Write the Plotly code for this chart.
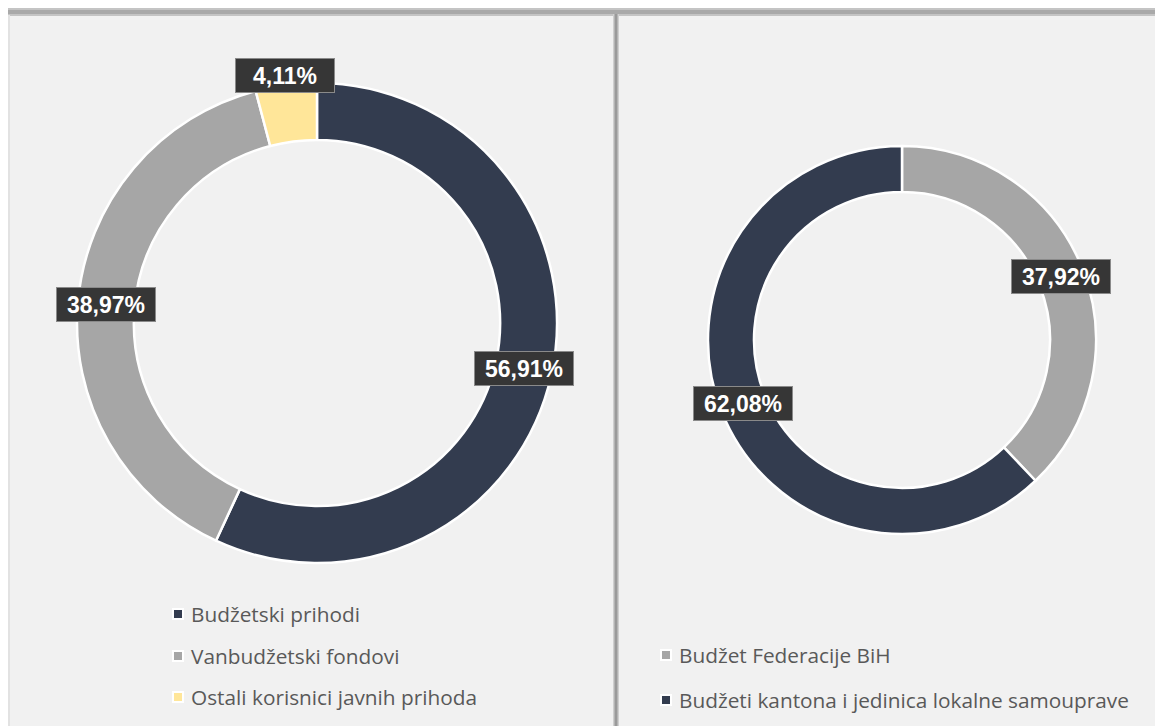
import math
import plotly.graph_objects as go

W, H = 1155, 726

# ---- data ----
left_labels = ["Budžetski prihodi", "Vanbudžetski fondovi", "Ostali korisnici javnih prihoda"]
left_values = [56.91, 38.97, 4.11]
left_colors = ["#333c4f", "#a6a6a6", "#ffe699"]

right_labels = ["Budžet Federacije BiH", "Budžeti kantona i jedinica lokalne samouprave"]
right_values = [37.92, 62.08]
right_colors = ["#a6a6a6", "#333c4f"]

# ---- layout geometry (pixels) ----
L_CX, L_CY, L_R = 317, 323, 240
R_CX, R_CY, R_R = 902, 340, 194
HOLE = 0.763


def px(x):
    return x / W


def py(y):
    return 1 - y / H


def domain(cx, cy, r):
    return dict(x=[px(cx - r), px(cx + r)], y=[py(cy + r), py(cy - r)])


fig = go.Figure()
for labels, values, colors, (cx, cy, r) in [
    (left_labels, left_values, left_colors, (L_CX, L_CY, L_R)),
    (right_labels, right_values, right_colors, (R_CX, R_CY, R_R)),
]:
    fig.add_trace(go.Pie(
        labels=labels, values=values, sort=False, direction="clockwise", rotation=0,
        hole=HOLE, domain=domain(cx, cy, r), textinfo="none", hoverinfo="label+percent",
        marker=dict(colors=colors, line=dict(color="#ffffff", width=2.5)),
        showlegend=False,
    ))

shapes = []
annotations = []

# background panel
shapes.append(dict(type="rect", xref="paper", yref="paper", x0=px(8), x1=1, y0=0, y1=py(15),
                   fillcolor="#f1f1f1", line=dict(width=0), layer="below"))
shapes.append(dict(type="rect", xref="paper", yref="paper", x0=px(8), x1=1, y0=py(16), y1=py(8),
                   fillcolor="#c4c4c4", line=dict(width=0), layer="below"))
shapes.append(dict(type="rect", xref="paper", yref="paper", x0=px(8), x1=1, y0=py(14), y1=py(10),
                   fillcolor="#a9a9a9", line=dict(width=0), layer="below"))
shapes.append(dict(type="rect", xref="paper", yref="paper", x0=px(8), x1=px(10), y0=0, y1=py(15),
                   fillcolor="#e2e2e2", line=dict(width=0), layer="below"))
# divider
shapes.append(dict(type="rect", xref="paper", yref="paper", x0=px(613), x1=px(619), y0=0, y1=py(14),
                   fillcolor="#cfcfcf", line=dict(width=0), layer="below"))
shapes.append(dict(type="rect", xref="paper", yref="paper", x0=px(614.5), x1=px(617.5), y0=0, y1=py(14),
                   fillcolor="#9a9a9a", line=dict(width=0), layer="below"))


def add_labels(values, cx, cy, r):
    total = sum(values)
    cum = 0
    rin = r * HOLE
    for v in values:
        mid = (cum + v / 2) / total * 2 * math.pi
        cum += v
        rr = (r + rin) / 2 if v / total > 0.1 else r + 10
        x = cx + rr * math.sin(mid)
        y = cy - rr * math.cos(mid)
        annotations.append(dict(
            xref="paper", yref="paper", x=px(x), y=py(y), xanchor="center", yanchor="middle",
            text=f"{v:.2f}%".replace(".", ","), showarrow=False,
            font=dict(family="Liberation Sans", size=23, color="#ffffff", weight="bold"),
            bgcolor="#363636", bordercolor="#8a8a8a", borderwidth=1, width=96, height=31,
            align="center", valign="middle",
        ))


add_labels(left_values, L_CX, L_CY, L_R)
add_labels(right_values, R_CX, R_CY, R_R)


def add_legend(labels, colors, sq_cx, text_x, ys):
    for lab, col, y in zip(labels, colors, ys):
        shapes.append(dict(type="rect", xref="paper", yref="paper",
                           x0=px(sq_cx - 5), x1=px(sq_cx + 5), y0=py(y + 5), y1=py(y - 5),
                           fillcolor=col, line=dict(color="#ffffff", width=2)))
        annotations.append(dict(
            xref="paper", yref="paper", x=px(text_x), y=py(y), xanchor="left", yanchor="middle",
            text=lab, showarrow=False,
            font=dict(family="Open Sans", size=20.8, color="#595959"),
        ))


add_legend(left_labels, left_colors, 178, 189, [614, 656, 697])
add_legend(right_labels, right_colors, 666, 677, [655, 700])

fig.update_layout(
    width=W, height=H, margin=dict(l=0, r=0, t=0, b=0),
    paper_bgcolor="#ffffff", plot_bgcolor="#ffffff",
    shapes=shapes, annotations=annotations,
)

fig.write_html("out.html")
